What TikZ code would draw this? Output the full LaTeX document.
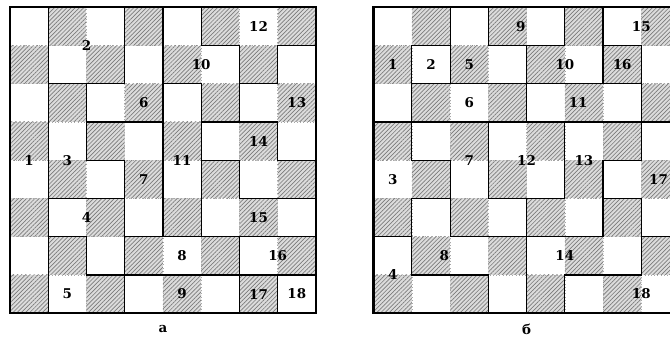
\documentclass[tikz,border=0pt]{standalone}
\usepackage{fontspec}
\setmainfont{DejaVu Serif}
\usetikzlibrary{patterns.meta}
\definecolor{hatchgray}{HTML}{7a7a7a}
\definecolor{cellgray}{HTML}{dcdcdc}
\definecolor{gridgray}{HTML}{a8a8a8}
\tikzset{
  hatch/.style={fill=cellgray,postaction={pattern={Lines[angle=45,distance=2.2pt,line width=0.5pt]},pattern color=hatchgray}},
  piece/.style={line width=0.9pt,line join=miter},
  boardframe/.style={line width=1.8pt},
  cellnum/.style={font=\bfseries\fontsize{10}{12}\selectfont,inner sep=0pt},
}

\begin{document}
\begin{tikzpicture}[x=1cm,y=1cm]
  \useasboundingbox (-0.26,-0.65) rectangle (17.26,8.19);
  \clip (-0.26,-0.65) rectangle (17.26,8.19);
  % checkerboard and dotted grid of both boards
  \foreach \ox in {0,9.51}{
    \begin{scope}[xshift=\ox cm]
      \foreach \i in {0,...,7}
        \foreach \j in {0,2,4,6}{
          \pgfmathtruncatemacro\k{\j+mod(\i,2)}
          \fill[hatch] (\i,\k) rectangle ++(1,1);
        }
      \draw[gridgray,dotted,line width=0.4pt] (0,0) grid (8,8);
    \end{scope}
  }

  % board a
  \draw[piece] (0,0) rectangle (1,8);
  \draw[piece] (1,6) rectangle (3,8);
  \draw[piece] (1,6) -- (2,6) -- (2,4) -- (3,4) -- (3,3) -- (1,3) -- cycle;
  \draw[piece] (1,3) -- (3,3) -- (3,1) -- (2,1) -- (2,2) -- (1,2) -- cycle;
  \draw[piece] (1,2) -- (2,2) -- (2,1) -- (3,1) -- (3,0) -- (1,0) -- cycle;
  \draw[piece] (3,8) -- (4,8) -- (4,5) -- (2,5) -- (2,6) -- (3,6) -- cycle;
  \draw[piece] (2,5) -- (4,5) -- (4,2) -- (3,2) -- (3,4) -- (2,4) -- cycle;
  \draw[piece] (3,1) rectangle (6,2);
  \draw[piece] (3,0) rectangle (6,1);
  \draw[piece] (4,8) -- (5,8) -- (5,7) -- (6,7) -- (6,5) -- (5,5) -- (5,6) -- (4,6) -- cycle;
  \draw[piece] (4,2) rectangle (5,6);
  \draw[piece] (5,8) -- (8,8) -- (8,7) -- (7,7) -- (7,6) -- (6,6) -- (6,7) -- (5,7) -- cycle;
  \draw[piece] (7,7) -- (8,7) -- (8,4) -- (7,4) -- (7,5) -- (6,5) -- (6,6) -- (7,6) -- cycle;
  \draw[piece] (5,5) -- (7,5) -- (7,4) -- (8,4) -- (8,3) -- (6,3) -- (6,4) -- (5,4) -- cycle;
  \draw[piece] (5,4) -- (6,4) -- (6,3) -- (8,3) -- (8,2) -- (5,2) -- cycle;
  \draw[piece] (6,1) rectangle (8,2);
  \draw[piece] (6,0) rectangle (7,1);
  \draw[piece] (7,0) rectangle (8,1);
  \draw[boardframe] (0,0) rectangle (8,8);

  \node[cellnum] (a1) at (0.5,4) {1};
  \node[cellnum] (a2) at (2,7) {2};
  \node[cellnum] (a3) at (1.5,4) {3};
  \node[cellnum] (a4) at (2,2.5) {4};
  \node[cellnum] (a5) at (1.5,0.5) {5};
  \node[cellnum] (a6) at (3.5,5.5) {6};
  \node[cellnum] (a7) at (3.5,3.5) {7};
  \node[cellnum] (a8) at (4.5,1.5) {8};
  \node[cellnum] (a9) at (4.5,0.5) {9};
  \node[cellnum] (a10) at (5,6.5) {10};
  \node[cellnum] (a11) at (4.5,4) {11};
  \node[cellnum] (a12) at (6.5,7.5) {12};
  \node[cellnum] (a13) at (7.5,5.5) {13};
  \node[cellnum] (a14) at (6.5,4.5) {14};
  \node[cellnum] (a15) at (6.5,2.5) {15};
  \node[cellnum] (a16) at (7,1.5) {16};
  \node[cellnum] (a17) at (6.5,0.5) {17};
  \node[cellnum] (a18) at (7.5,0.5) {18};
  \node[cellnum] (capa) at (4,-0.42) {а};

  % board b
  \begin{scope}[xshift=9.51cm]
    \draw[piece] (0,8) -- (2,8) -- (2,7) -- (1,7) -- (1,5) -- (0,5) -- cycle;
    \draw[piece] (1,6) rectangle (2,7);
    \draw[piece] (2,8) -- (3,8) -- (3,7) -- (4,7) -- (4,6) -- (2,6) -- cycle;
    \draw[piece] (3,7) rectangle (5,8);
    \draw[piece] (5,8) -- (6,8) -- (6,6) -- (4,6) -- (4,7) -- (5,7) -- cycle;
    \draw[piece] (6,8) -- (8,8) -- (8,5) -- (7,5) -- (7,7) -- (6,7) -- cycle;
    \draw[piece] (6,6) rectangle (7,7);
    \draw[piece] (1,5) rectangle (4,6);
    \draw[piece] (4,5) rectangle (7,6);
    \draw[piece] (0,5) -- (1,5) -- (1,4) -- (2,4) -- (2,3) -- (1,3) -- (1,2) -- (0,2) -- cycle;
    \draw[piece] (1,5) -- (3,5) -- (3,3) -- (4,3) -- (4,2) -- (2,2) -- (2,4) -- (1,4) -- cycle;
    \draw[piece] (3,3) rectangle (5,5);
    \draw[piece] (5,5) -- (7,5) -- (7,4) -- (6,4) -- (6,2) -- (4,2) -- (4,3) -- (5,3) -- cycle;
    \draw[piece] (7,5) -- (8,5) -- (8,2) -- (7,2) -- (7,3) -- (6,3) -- (6,4) -- (7,4) -- cycle;
    \draw[piece] (1,3) -- (2,3) -- (2,2) -- (4,2) -- (4,0) -- (3,0) -- (3,1) -- (1,1) -- cycle;
    \draw[piece] (0,2) -- (1,2) -- (1,1) -- (3,1) -- (3,0) -- (0,0) -- cycle;
    \draw[piece] (6,3) -- (7,3) -- (7,1) -- (5,1) -- (5,0) -- (4,0) -- (4,2) -- (6,2) -- cycle;
    \draw[piece] (7,2) -- (8,2) -- (8,0) -- (5,0) -- (5,1) -- (7,1) -- cycle;
    \draw[boardframe] (0,0) rectangle (8,8);

    \node[cellnum] (b1) at (0.5,6.5) {1};
    \node[cellnum] (b2) at (1.5,6.5) {2};
    \node[cellnum] (b3) at (0.5,3.5) {3};
    \node[cellnum] (b4) at (0.5,1) {4};
    \node[cellnum] (b5) at (2.5,6.5) {5};
    \node[cellnum] (b6) at (2.5,5.5) {6};
    \node[cellnum] (b7) at (2.5,4) {7};
    \node[cellnum] (b8) at (1.85,1.5) {8};
    \node[cellnum] (b9) at (3.85,7.5) {9};
    \node[cellnum] (b10) at (5,6.5) {10};
    \node[cellnum] (b11) at (5.35,5.5) {11};
    \node[cellnum] (b12) at (4,4) {12};
    \node[cellnum] (b13) at (5.5,4) {13};
    \node[cellnum] (b14) at (5,1.5) {14};
    \node[cellnum] (b15) at (7,7.5) {15};
    \node[cellnum] (b16) at (6.5,6.5) {16};
    \node[cellnum] (b17) at (7.45,3.5) {17};
    \node[cellnum] (b18) at (7,0.5) {18};
    \node[cellnum] (capb) at (4,-0.42) {б};
  \end{scope}
\end{tikzpicture}
\end{document}
